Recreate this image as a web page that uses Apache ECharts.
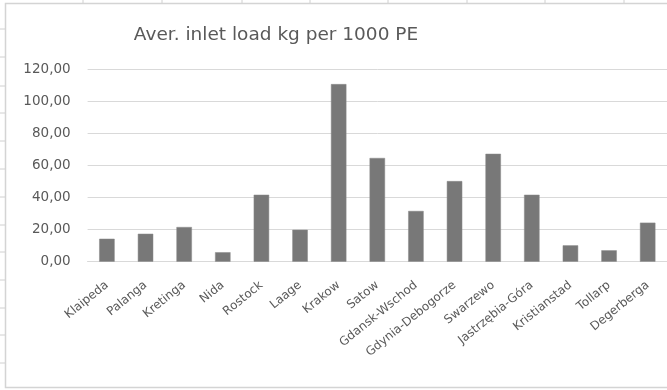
<!DOCTYPE html>
<html>
<head>
<meta charset="utf-8">
<script src="https://cdn.jsdelivr.net/npm/echarts@6/dist/echarts.min.js"></script>
<style>
  html, body { margin: 0; padding: 0; background: #ffffff; }
  #chart { width: 667px; height: 390px; }
</style>
</head>
<body>
<div id="chart"></div>
<script>
// Average inlet load per treatment plant, kg per 1000 PE
const plants = [
  'Klaipeda', 'Palanga', 'Kretinga', 'Nida', 'Rostock', 'Laage', 'Krakow',
  'Satow', 'Gdansk-Wschod', 'Gdynia-Debogorze', 'Swarzewo', 'Jastrzębia-Góra',
  'Kristianstad', 'Tollarp', 'Degerberga'
];
const inletLoad = [14.3, 17.4, 21.6, 5.9, 41.7, 19.9, 110.6, 64.6, 31.6, 50.2, 67.2, 41.7, 10.2, 7.1, 24.3];
const yTicks = { min: 0, max: 120, step: 20 };
const chartTitle = 'Aver. inlet load kg per 1000 PE';

// Spreadsheet cell lines around the embedded chart
const rowLines = [29, 57, 86, 113, 141, 169, 197, 225, 252, 280, 308, 335, 363];
const colLines = [83, 162, 242, 310, 388, 467, 545, 624];

const textColor = '#595959';
const gridColor = '#d9d9d9';
const font = 'DejaVu Sans';

const decor = [];
rowLines.forEach(y => decor.push({
  type: 'line', silent: true,
  shape: { x1: 0, y1: y, x2: 5, y2: y },
  style: { stroke: '#d0d0d0', lineWidth: 1 }
}));
colLines.forEach(x => decor.push({
  type: 'line', silent: true,
  shape: { x1: x, y1: 0, x2: x, y2: 3 },
  style: { stroke: '#d0d0d0', lineWidth: 1 }
}));
decor.push({
  type: 'rect', silent: true, z: -1,
  shape: { x: 5.5, y: 3.5, width: 680, height: 384 },
  style: { fill: '#ffffff', stroke: '#d4d4d4', lineWidth: 1.5 }
});

const chart = echarts.init(document.getElementById('chart'), null, { renderer: 'canvas' });
chart.setOption({
  backgroundColor: '#ffffff',
  animation: false,
  title: {
    text: chartTitle,
    left: 271,
    top: 21,
    textAlign: 'center',
    textStyle: {
      color: textColor,
      fontFamily: font,
      fontWeight: 'normal',
      fontSize: 18.5
    }
  },
  graphic: decor,
  grid: {
    left: 87.6,
    top: 69,
    width: 597,
    height: 192.7,
    containLabel: false
  },
  xAxis: {
    type: 'category',
    data: plants,
    axisLine: { show: true, lineStyle: { color: gridColor, width: 1 } },
    axisTick: { show: false },
    axisLabel: {
      rotate: 39,
      interval: 0,
      margin: 22,
      color: textColor,
      fontFamily: font,
      fontSize: 12
    }
  },
  yAxis: {
    type: 'value',
    min: yTicks.min,
    max: yTicks.max,
    interval: yTicks.step,
    axisLine: { show: false },
    axisTick: { show: false },
    splitLine: { lineStyle: { color: gridColor, width: 1 } },
    axisLabel: {
      margin: 17,
      color: textColor,
      fontFamily: font,
      fontSize: 13.5,
      formatter: v => v.toFixed(2).replace('.', ',')
    }
  },
  series: [{
    type: 'bar',
    data: inletLoad,
    barWidth: '40%',
    itemStyle: { color: '#787878', borderColor: '#8a8a8a', borderWidth: 0.5 }
  }]
});
</script>
</body>
</html>
